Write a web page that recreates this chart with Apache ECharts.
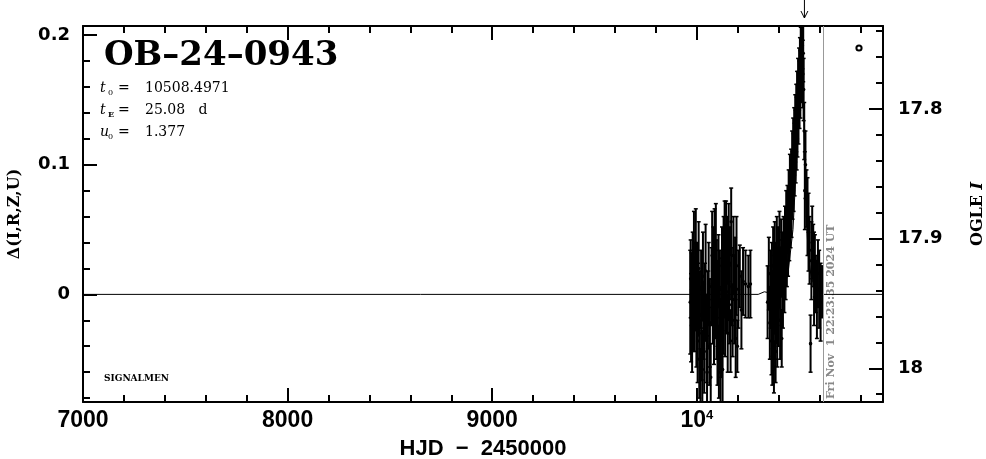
<!DOCTYPE html>
<html><head><meta charset="utf-8">
<script src="https://cdn.jsdelivr.net/npm/echarts@6/dist/echarts.min.js"></script>
<style>html,body{margin:0;padding:0;background:#fff}#c{width:986px;height:459px}</style>
</head><body><div id="c"></div>
<script>
// ---- axis ranges & ticks ----
const xMin = 7000, xMax = 10910;
const yMin = -0.083, yMax = 0.207;
const magZero = 17.943;
const xMajorTicks = [7000, 8000, 9000, 10000];
const xTickLabels = ['7000', '8000', '9000', '10{sup|4}'];
const xMinorTicks = [7200, 7400, 7600, 7800, 8200, 8400, 8600, 8800, 9200, 9400, 9600, 9800, 10200, 10400, 10600, 10800];
const yMajorTicks = [0, 0.1, 0.2];
const yTickLabels = ['0', '0.1', '0.2'];
const yMinorTicks = [-0.08, -0.06, -0.04, -0.02, 0.02, 0.04, 0.06, 0.08, 0.12, 0.14, 0.16, 0.18];
const magMajorTicks = [17.8, 17.9, 18.0];
const magTickLabels = ['17.8', '17.9', '18'];
const magMinorTicks = [17.74, 17.76, 17.78, 17.82, 17.84, 17.86, 17.88, 17.92, 17.94, 17.96, 17.98, 18.02];

// ---- observations: season 2023 ----
const hjd2023 = [9968, 9970, 9972, 9975, 9977, 9980, 9983, 9986, 9989, 9992, 9995, 9998,
  10001, 10004, 10006, 10009, 10012, 10015, 10018, 10021, 10024, 10027, 10030, 10033, 10036, 10040, 10043, 10047, 10050, 10054, 10058, 10061, 10064, 10068,
  10072, 10075, 10078, 10081, 10084, 10087, 10090, 10093,
  10096, 10098, 10101, 10103, 10106, 10108, 10111, 10113, 10116, 10118, 10121, 10123, 10126, 10128,
  10131, 10133, 10136, 10138, 10141, 10143, 10146, 10148, 10151, 10153, 10156, 10159, 10162, 10165, 10168, 10171, 10175, 10179,
  10183, 10187, 10190, 10194, 10198, 10203, 10210, 10218, 10226, 10238, 10252, 10262];
const delta2023 = [-0.006, 0.012, -0.018, 0.004, -0.030, 0.016, -0.008, 0.022, -0.014, 0.006, 0.028, -0.024,
  0.010, -0.036, -0.004, 0.020, -0.050, -0.016, -0.066, 0.004, -0.030, -0.058, 0.014, -0.020, -0.044, -0.006, 0.018, -0.034, -0.060, -0.012, 0.008, -0.040, -0.022, -0.064,
  0.006, 0.030, -0.010, 0.020, -0.024, 0.036, 0.000, 0.034,
  -0.018, 0.012, -0.040, -0.008, 0.018, -0.052, -0.026, 0.004, -0.060, -0.034, -0.004, 0.022, -0.058, -0.016,
  0.030, 0.010, 0.042, -0.014, 0.024, 0.044, 0.002, 0.034, -0.030, 0.014, 0.040, -0.008, 0.024, -0.036, 0.056, 0.006, -0.020, 0.030,
  -0.004, 0.012, -0.034, 0.022, -0.040, 0.004, 0.014, -0.012, 0.010, 0.008, 0.006, 0.008];
const err2023 = [0.040, 0.030, 0.034, 0.028, 0.030, 0.032, 0.036, 0.042, 0.030, 0.034, 0.038, 0.032,
  0.030, 0.032, 0.028, 0.036, 0.030, 0.034, 0.024, 0.030, 0.036, 0.030, 0.034, 0.030, 0.032, 0.030, 0.036, 0.034, 0.028, 0.030, 0.032, 0.030, 0.034, 0.026,
  0.030, 0.034, 0.028, 0.032, 0.030, 0.030, 0.034, 0.036,
  0.032, 0.030, 0.030, 0.034, 0.028, 0.028, 0.032, 0.030, 0.026, 0.030, 0.032, 0.030, 0.030, 0.030,
  0.030, 0.028, 0.030, 0.034, 0.030, 0.028, 0.032, 0.026, 0.030, 0.034, 0.030, 0.030, 0.028, 0.024, 0.026, 0.030, 0.028, 0.030,
  0.034, 0.032, 0.030, 0.038, 0.020, 0.030, 0.024, 0.030, 0.026, 0.026, 0.024, 0.026];

// ---- observations: season 2024 ----
const hjd2024 = [10346, 10352, 10357, 10361,
  10365, 10367, 10369, 10371, 10373, 10375, 10377, 10379, 10381, 10383, 10385, 10387, 10389, 10391, 10393, 10395,
  10397, 10399, 10402, 10404, 10407, 10409, 10412, 10415, 10418, 10421, 10424, 10428,
  10431, 10434, 10437, 10440, 10443, 10446, 10449, 10452, 10455, 10458,
  10461, 10463, 10466, 10468, 10471, 10473, 10476, 10478, 10481, 10483, 10486, 10488,
  10490, 10492, 10495, 10497, 10500, 10502, 10504,
  10506, 10508, 10510, 10512, 10514, 10516, 10518, 10520, 10522,
  10525, 10528, 10531,
  10536, 10541, 10546, 10551, 10556, 10560, 10564,
  10569, 10573, 10577, 10582, 10587, 10592, 10598,
  10605, 10612];
const delta2024 = [-0.006, 0.016, -0.022, 0.004,
  -0.036, 0.010, -0.048, -0.012, 0.022, -0.030, -0.056, 0.000, 0.030, -0.020, -0.044, 0.012, -0.006, 0.034, -0.026, 0.006,
  0.024, -0.010, 0.016, 0.036, -0.020, 0.008, 0.028, -0.034, 0.018, 0.002, 0.030, 0.012,
  0.040, 0.022, 0.050, 0.034, 0.058, 0.044, 0.068, 0.052, 0.078, 0.064,
  0.086, 0.074, 0.098, 0.084, 0.108, 0.094, 0.118, 0.104, 0.128, 0.114, 0.136, 0.124,
  0.146, 0.134, 0.156, 0.144, 0.166, 0.154, 0.174,
  0.162, 0.184, 0.172, 0.190, 0.178, 0.192, 0.170, 0.186, 0.158,
  0.126, 0.080, 0.100,
  0.074, 0.060, 0.048, 0.034, -0.038, 0.026, 0.040,
  0.030, 0.012, 0.022, 0.008, -0.004, 0.016, 0.004,
  -0.006, 0.002];
const err2024 = [0.028, 0.028, 0.028, 0.030,
  0.026, 0.030, 0.022, 0.030, 0.030, 0.028, 0.020, 0.030, 0.026, 0.030, 0.024, 0.028, 0.032, 0.026, 0.030, 0.030,
  0.028, 0.030, 0.026, 0.028, 0.030, 0.028, 0.030, 0.022, 0.030, 0.028, 0.030, 0.026,
  0.028, 0.026, 0.030, 0.028, 0.026, 0.030, 0.028, 0.026, 0.030, 0.028,
  0.026, 0.030, 0.028, 0.026, 0.028, 0.030, 0.026, 0.028, 0.026, 0.028, 0.026, 0.028,
  0.026, 0.028, 0.026, 0.028, 0.024, 0.026, 0.024,
  0.026, 0.022, 0.024, 0.020, 0.024, 0.018, 0.026, 0.022, 0.024,
  0.022, 0.030, 0.026,
  0.022, 0.030, 0.030, 0.026, 0.022, 0.030, 0.028,
  0.024, 0.036, 0.024, 0.022, 0.030, 0.026, 0.030,
  0.030, 0.020];

// ---- model curve ----
const modelHJD = [7000, 10300, 10330, 10360, 10420, 10445, 10470, 10490, 10505, 10514, 10520, 10527, 10535, 10545, 10560, 10590, 10620, 10910];
const modelDelta = [0, 0, 0.002, 0.001, 0.004, 0.015, 0.05, 0.11, 0.165, 0.196, 0.16, 0.108, 0.06, 0.03, 0.012, 0.003, 0, 0];

// ---- annotations ----
const titleText = 'OB–24–0943';
const paramNames = [['t', '0'], ['t', 'E'], ['u', '0']];
const paramValues = ['10508.4971', '25.08   d', '1.377'];
const arrowHJD = 10526;
const nowHJD = 10616.43;
const nowText = 'Fri Nov  1 22:23:35 2024 UT';

const obs = hjd2023.map((t, i) => [t, delta2023[i], err2023[i]])
  .concat(hjd2024.map((t, i) => [t, delta2024[i], err2024[i]]));
const model = modelHJD.map((t, i) => [t, modelDelta[i]]);

function renderErr(params, api) {
  const t = api.value(0), d = api.value(1), e = api.value(2);
  const top = api.coord([t, d + e]), bot = api.coord([t, d - e]), c = api.coord([t, d]);
  const cs = params.coordSys;
  const y0 = Math.max(top[1], cs.y), y1 = Math.min(bot[1], cs.y + cs.height);
  const ch = [];
  if (y1 > y0) ch.push({ type: 'line', shape: { x1: c[0], y1: y0, x2: c[0], y2: y1 }, style: { stroke: '#000', lineWidth: 2 } });
  if (top[1] >= cs.y) ch.push({ type: 'line', shape: { x1: c[0] - 2, y1: top[1], x2: c[0] + 2, y2: top[1] }, style: { stroke: '#000', lineWidth: 1.5 } });
  if (bot[1] <= cs.y + cs.height) ch.push({ type: 'line', shape: { x1: c[0] - 2, y1: bot[1], x2: c[0] + 2, y2: bot[1] }, style: { stroke: '#000', lineWidth: 1.5 } });
  if (c[1] >= cs.y && c[1] <= cs.y + cs.height) ch.push({ type: 'circle', shape: { cx: c[0], cy: c[1], r: 1.8 }, style: { fill: '#000' } });
  return { type: 'group', children: ch };
}

const tickStyle = { color: '#000', width: 2 };
const lineStyle = { color: '#000', width: 2 };
function xAx(pos, ticks, len, withLine, label) {
  return {
    type: 'value', min: xMin, max: xMax, position: pos, gridIndex: 0,
    axisLine: { show: withLine, onZero: false, lineStyle },
    axisTick: { show: true, inside: true, length: len, lineStyle: tickStyle, customValues: ticks },
    axisLabel: label || { show: false },
    splitLine: { show: false }, minorTick: { show: false }
  };
}
function yAx(pos, min, max, inverse, ticks, len, withLine, label) {
  return {
    type: 'value', min, max, inverse, position: pos, gridIndex: 0,
    axisLine: { show: withLine, onZero: false, lineStyle },
    axisTick: { show: true, inside: true, length: len, lineStyle: tickStyle, customValues: ticks },
    axisLabel: label || { show: false },
    splitLine: { show: false }, minorTick: { show: false }
  };
}

const chart = echarts.init(document.getElementById('c'), null, { renderer: 'canvas' });
const xMainLabel = {
  show: true, customValues: xMajorTicks, margin: 7, color: '#000',
  fontFamily: 'Liberation Sans', fontWeight: 'bold', fontSize: 23,
  formatter: v => xTickLabels[xMajorTicks.indexOf(v)],
  rich: { sup: { fontFamily: 'Liberation Sans', fontWeight: 'bold', fontSize: 13, verticalAlign: 'top', color: '#000' } }
};
const yMainLabel = {
  show: true, customValues: yMajorTicks, margin: 13, color: '#000',
  fontFamily: 'DejaVu Sans', fontWeight: 'bold', fontSize: 18,
  formatter: v => yTickLabels[yMajorTicks.findIndex(t => Math.abs(t - v) < 1e-9)]
};
const magLabel = {
  show: true, customValues: magMajorTicks, margin: 15, color: '#000',
  fontFamily: 'DejaVu Sans', fontWeight: 'bold', fontSize: 18,
  formatter: v => magTickLabels[magMajorTicks.findIndex(t => Math.abs(t - v) < 1e-9)]
};

const xBottom = xAx('bottom', xMajorTicks, 14, true, xMainLabel);
xBottom.name = 'HJD  −  2450000';
xBottom.nameLocation = 'middle';
xBottom.nameGap = 36;
xBottom.nameTextStyle = { fontFamily: 'Liberation Sans', fontWeight: 'bold', fontSize: 22, color: '#000' };

const yLeft = yAx('left', yMin, yMax, false, yMajorTicks, 14, true, yMainLabel);
yLeft.name = 'Δ(I,R,Z,U)';
yLeft.nameLocation = 'middle';
yLeft.nameRotate = 90;
yLeft.nameGap = 60;
yLeft.nameTextStyle = { fontFamily: 'DejaVu Serif', fontWeight: 'bold', fontSize: 16, color: '#000' };

const yRight = yAx('right', magZero - yMax, magZero - yMin, true, magMajorTicks, 14, true, magLabel);
yRight.name = 'OGLE {i|I}';
yRight.nameLocation = 'middle';
yRight.nameRotate = 90;
yRight.nameGap = 87;
yRight.nameTextStyle = { fontFamily: 'DejaVu Serif', fontWeight: 'bold', fontSize: 16, color: '#000',
  rich: { i: { fontFamily: 'DejaVu Serif', fontWeight: 'bold', fontStyle: 'italic', fontSize: 16, color: '#000' } } };

chart.setOption({
  animation: false,
  backgroundColor: '#fff',
  grid: { left: 83, right: 103, top: 26, bottom: 57, containLabel: false, outerBoundsMode: 'none' },
  xAxis: [
    xBottom,
    xAx('bottom', xMinorTicks, 7, false),
    xAx('top', xMajorTicks, 14, true),
    xAx('top', xMinorTicks, 7, false)
  ],
  yAxis: [
    yLeft,
    yAx('left', yMin, yMax, false, yMinorTicks, 7, false),
    yRight,
    yAx('right', magZero - yMax, magZero - yMin, true, magMinorTicks, 7, false)
  ],
  series: [
    {
      type: 'line', xAxisIndex: 0, yAxisIndex: 0, data: model, symbol: 'none',
      lineStyle: { color: '#000', width: 1 }, z: 3,
      markLine: {
        silent: true, symbol: 'none', animation: false,
        lineStyle: { color: '#999', width: 1, type: 'solid' },
        label: { show: false },
        data: [{ xAxis: nowHJD }]
      }
    },
    {
      type: 'custom', xAxisIndex: 0, yAxisIndex: 0, data: obs, renderItem: renderErr, z: 4
    }
  ]
});

// ---- text / annotation graphics ----
const g = [];
g.push({ type: 'text', x: 104, y: 56, style: { text: titleText, font: 'bold 34px "DejaVu Serif"', fill: '#000', verticalAlign: 'middle', align: 'left' } });
const rowY = [88, 110, 132];
paramNames.forEach((p, i) => {
  g.push({ type: 'text', x: 100, y: rowY[i], style: { text: p[0], font: 'italic 14px "DejaVu Serif"', fill: '#000', verticalAlign: 'middle' } });
  g.push({ type: 'text', x: 108, y: rowY[i] + 5, style: { text: p[1], font: (p[1] === 'E' ? 'bold ' : '') + '8px "DejaVu Serif"', fill: '#000', verticalAlign: 'middle' } });
  g.push({ type: 'text', x: 118, y: rowY[i], style: { text: '=', font: '14px "DejaVu Serif"', fill: '#000', verticalAlign: 'middle' } });
  g.push({ type: 'text', x: 145, y: rowY[i], style: { text: paramValues[i], font: '14px "DejaVu Serif"', fill: '#000', verticalAlign: 'middle' } });
});
g.push({ type: 'text', x: 104, y: 379, style: { text: 'SIGNALMEN', font: 'bold 9px "DejaVu Serif"', fill: '#000', verticalAlign: 'middle' } });
g.push({ type: 'circle', shape: { cx: 859, cy: 48, r: 2.6 }, style: { fill: 'none', stroke: '#000', lineWidth: 2 } });

const ax = chart.convertToPixel({ xAxisIndex: 0 }, arrowHJD);
g.push({ type: 'line', shape: { x1: ax, y1: 0, x2: ax, y2: 18 }, style: { stroke: '#000', lineWidth: 1 } });
g.push({ type: 'polyline', shape: { points: [[ax - 3.5, 11], [ax, 18], [ax + 3.5, 11]] }, style: { stroke: '#000', lineWidth: 1, fill: 'none' } });

const nx = chart.convertToPixel({ xAxisIndex: 0 }, nowHJD);
g.push({ type: 'text', x: nx + 8, y: 399, rotation: Math.PI / 2,
  style: { text: nowText, font: 'bold 11px "DejaVu Serif"', fill: '#888', align: 'left', verticalAlign: 'middle' } });

chart.setOption({ graphic: g });
</script></body></html>
